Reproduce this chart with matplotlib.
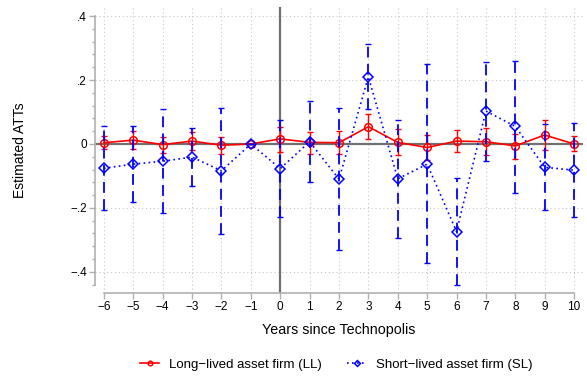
import numpy as np
import matplotlib.pyplot as plt
from matplotlib.ticker import MultipleLocator, FixedLocator

plt.rcParams['font.family'] = ['Liberation Sans', 'DejaVu Sans']

years = np.arange(-6, 11)

# long-lived asset firms (LL)
ll_est = [0.004, 0.012, -0.002, 0.009, -0.004, 0.0, 0.016, 0.005, 0.004,
          0.054, 0.005, -0.011, 0.009, 0.007, -0.006, 0.028, 0.0]
ll_hi = [0.026, 0.040, 0.021, 0.038, 0.023, 0.0, 0.054, 0.038, 0.042,
         0.093, 0.046, 0.027, 0.044, 0.051, 0.031, 0.075, 0.025]
ll_lo = [-0.017, -0.017, -0.027, -0.019, -0.031, 0.0, -0.024, -0.031, -0.032,
         0.016, -0.034, -0.050, -0.024, -0.034, -0.047, -0.019, -0.022]

# short-lived asset firms (SL)
sl_est = [-0.076, -0.063, -0.054, -0.041, -0.084, 0.0, -0.077, 0.007, -0.110,
          0.210, -0.109, -0.063, -0.274, 0.103, 0.055, -0.073, -0.082]
sl_hi = [0.056, 0.056, 0.108, 0.051, 0.113, 0.0, 0.075, 0.135, 0.113,
         0.313, 0.075, 0.249, -0.107, 0.257, 0.260, 0.062, 0.065]
sl_lo = [-0.208, -0.183, -0.215, -0.131, -0.281, 0.0, -0.229, -0.118, -0.333,
         0.109, -0.293, -0.371, -0.441, -0.052, -0.152, -0.208, -0.228]

ytick_vals = [-0.4, -0.2, 0, 0.2, 0.4]
ytick_labels = ['\u2212.4', '\u2212.2', '0', '.2', '.4']

fig = plt.figure(figsize=(5.87, 3.77), dpi=100)
ax = fig.add_axes([0.162, 0.223, 0.831, 0.758])

# grid and reference lines
for v in [-0.4, -0.2, 0.2, 0.4]:
    ax.axhline(v, color='#c8c8c8', lw=0.8, ls=(0, (1, 2.5)), zorder=0)
for x in years:
    ax.axvline(x, color='#c8c8c8', lw=0.8, ls=(0, (1, 2.5)), zorder=0)
ax.axhline(0, color='#707070', lw=1.6, zorder=1)
ax.axvline(0, color='#707070', lw=1.6, zorder=1)

ll_est = np.array(ll_est)
sl_est = np.array(sl_est)

# LL series
ax.errorbar(years, ll_est,
            yerr=[ll_est - np.array(ll_lo), np.array(ll_hi) - ll_est],
            fmt='none', ecolor='red', elinewidth=1.0, capsize=2.5,
            capthick=1.0, zorder=3)
ax.plot(years, ll_est, color='red', lw=1.2, marker='o', ms=5.5,
        mfc='none', mec='red', mew=1.1, zorder=4,
        label='Long\u2212lived asset firm (LL)')

# SL series
eb2 = ax.errorbar(years, sl_est,
                  yerr=[sl_est - np.array(sl_lo), np.array(sl_hi) - sl_est],
                  fmt='none', ecolor='blue', elinewidth=1.3, capsize=2.5,
                  capthick=1.0, zorder=5)
eb2[2][0].set_linestyle((0, (6, 3.5)))
ax.plot(years, sl_est, color='blue', lw=1.2, ls=(0, (1, 2)), marker='D',
        ms=5, mfc='none', mec='blue', mew=1.1, zorder=6,
        label='Short\u2212lived asset firm (SL)')

ax.set_xlim(-6.3, 10.3)
ax.set_ylim(-0.466, 0.428)
ax.set_xticks(years)
ax.set_xticklabels([str(x).replace('-', '\u2212') for x in years])
ax.yaxis.set_major_locator(FixedLocator(ytick_vals))
ax.set_yticklabels(ytick_labels)
ax.yaxis.set_minor_locator(MultipleLocator(0.04))

for s in ['top', 'right']:
    ax.spines[s].set_visible(False)
ax.spines['left'].set_bounds(-0.44, 0.4)
ax.spines['bottom'].set_bounds(-6, 10)
for s in ['left', 'bottom']:
    ax.spines[s].set_color('#b0b0b0')
    ax.spines[s].set_linewidth(1.2)
ax.tick_params(axis='both', which='major', color='#b0b0b0', length=4,
               width=1, labelsize=8.5, pad=2)
ax.tick_params(axis='y', which='minor', color='#b0b0b0', length=2.5, width=1)

ax.set_xlabel('Years since Technopolis', fontsize=10.3, labelpad=7)
ax.set_ylabel('Estimated ATTs', fontsize=10, labelpad=31)

fig.legend(loc='center', bbox_to_anchor=(0.573, 0.032), ncol=2,
           frameon=False, fontsize=9.5, handlelength=1.45, handletextpad=0.75,
           columnspacing=1.9, markerscale=0.6)

fig.savefig('out.png', dpi=100)
